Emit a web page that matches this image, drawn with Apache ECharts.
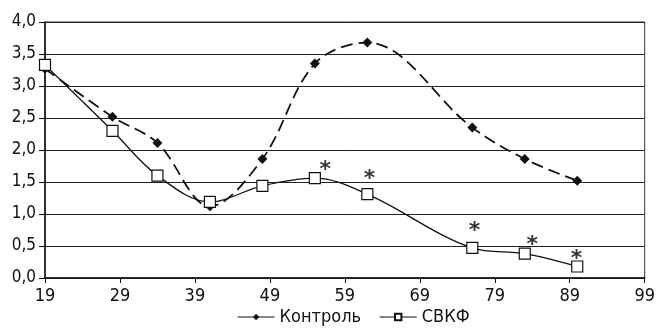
<!DOCTYPE html>
<html>
<head>
<meta charset="utf-8">
<script src="https://cdn.jsdelivr.net/npm/echarts@6/dist/echarts.min.js"></script>
<style>
  html, body { margin: 0; padding: 0; background: #fff; }
  #chart { width: 658px; height: 331px; }
</style>
</head>
<body>
<div id="chart"></div>
<script>
// values
const controlX = [19, 28, 34, 41, 48, 55, 62, 76, 83, 90];
const controlY = [3.27, 2.52, 2.11, 1.12, 1.86, 3.35, 3.68, 2.35, 1.86, 1.52];
const svkfX = [19, 28, 34, 41, 48, 55, 62, 76, 83, 90];
const svkfY = [3.33, 2.30, 1.60, 1.19, 1.44, 1.56, 1.31, 0.47, 0.38, 0.18];
// significance marks (*) placed above the СВКФ points
const starX = [56.4, 62.3, 76.3, 84.0, 89.9];
const starY = [1.77, 1.63, 0.83, 0.61, 0.39];
const xTicks = [19, 29, 39, 49, 59, 69, 79, 89, 99];
const seriesNames = ['Контроль', 'СВКФ'];

const font = "'DejaVu Sans Condensed', sans-serif";
const ink = '#111';
const zip = (xs, ys) => xs.map((x, i) => [x, ys[i]]);

const chart = echarts.init(document.getElementById('chart'));
chart.setOption({
  animation: false,
  textStyle: { fontFamily: font },
  grid: {
    left: 45, right: 6, top: 22, bottom: 53,
    show: true, borderColor: '#333', borderWidth: 1,
  },
  legend: {
    bottom: 0,
    left: 232,
    itemWidth: 37,
    itemHeight: 8,
    itemGap: 18,
    data: [
      { name: seriesNames[0], lineStyle: { type: 'solid', width: 1.2, color: ink } },
      { name: seriesNames[1], lineStyle: { type: 'solid', width: 1.2, color: ink } },
    ],
    textStyle: { fontFamily: font, fontSize: 18, color: ink },
  },
  xAxis: {
    type: 'value',
    min: xTicks[0],
    max: xTicks[xTicks.length - 1],
    interval: 10,
    axisLine: { lineStyle: { color: ink, width: 1.5 } },
    axisTick: { show: true, length: 5, lineStyle: { color: ink } },
    axisLabel: { color: ink, fontSize: 18, margin: 9, fontFamily: font },
    splitLine: { show: false },
  },
  yAxis: {
    type: 'value',
    min: 0,
    max: 4,
    interval: 0.5,
    axisLine: { show: true, lineStyle: { color: ink, width: 1.5 } },
    axisTick: { show: true, length: 6, lineStyle: { color: ink } },
    axisLabel: {
      color: ink, fontSize: 17, margin: 9, fontFamily: font,
      formatter: (v) => v.toFixed(1).replace('.', ','),
    },
    splitLine: { lineStyle: { color: '#222', width: 1 } },
  },
  series: [
    {
      name: seriesNames[0],
      type: 'line',
      data: zip(controlX, controlY),
      smooth: 0.35,
      symbol: 'diamond',
      symbolSize: 10,
      itemStyle: { color: ink },
      lineStyle: { color: ink, width: 1.8, type: [12, 6] },
      z: 3,
    },
    {
      name: seriesNames[1],
      type: 'line',
      data: zip(svkfX, svkfY),
      smooth: 0.35,
      symbol: 'rect',
      symbolSize: 11,
      itemStyle: { color: '#fff', borderColor: ink, borderWidth: 1.2 },
      lineStyle: { color: ink, width: 1.3 },
      z: 4,
    },
    {
      name: 'stars',
      type: 'scatter',
      data: zip(starX, starY),
      symbolSize: 1,
      itemStyle: { color: 'rgba(0,0,0,0)' },
      label: {
        show: true,
        position: 'inside',
        formatter: '*',
        fontSize: 22,
        fontWeight: 'bold',
        offset: [0, 6],
        color: '#000',
        fontFamily: "'DejaVu Sans', sans-serif",
      },
      silent: true,
      z: 5,
    },
  ],
});
</script>
</body>
</html>
